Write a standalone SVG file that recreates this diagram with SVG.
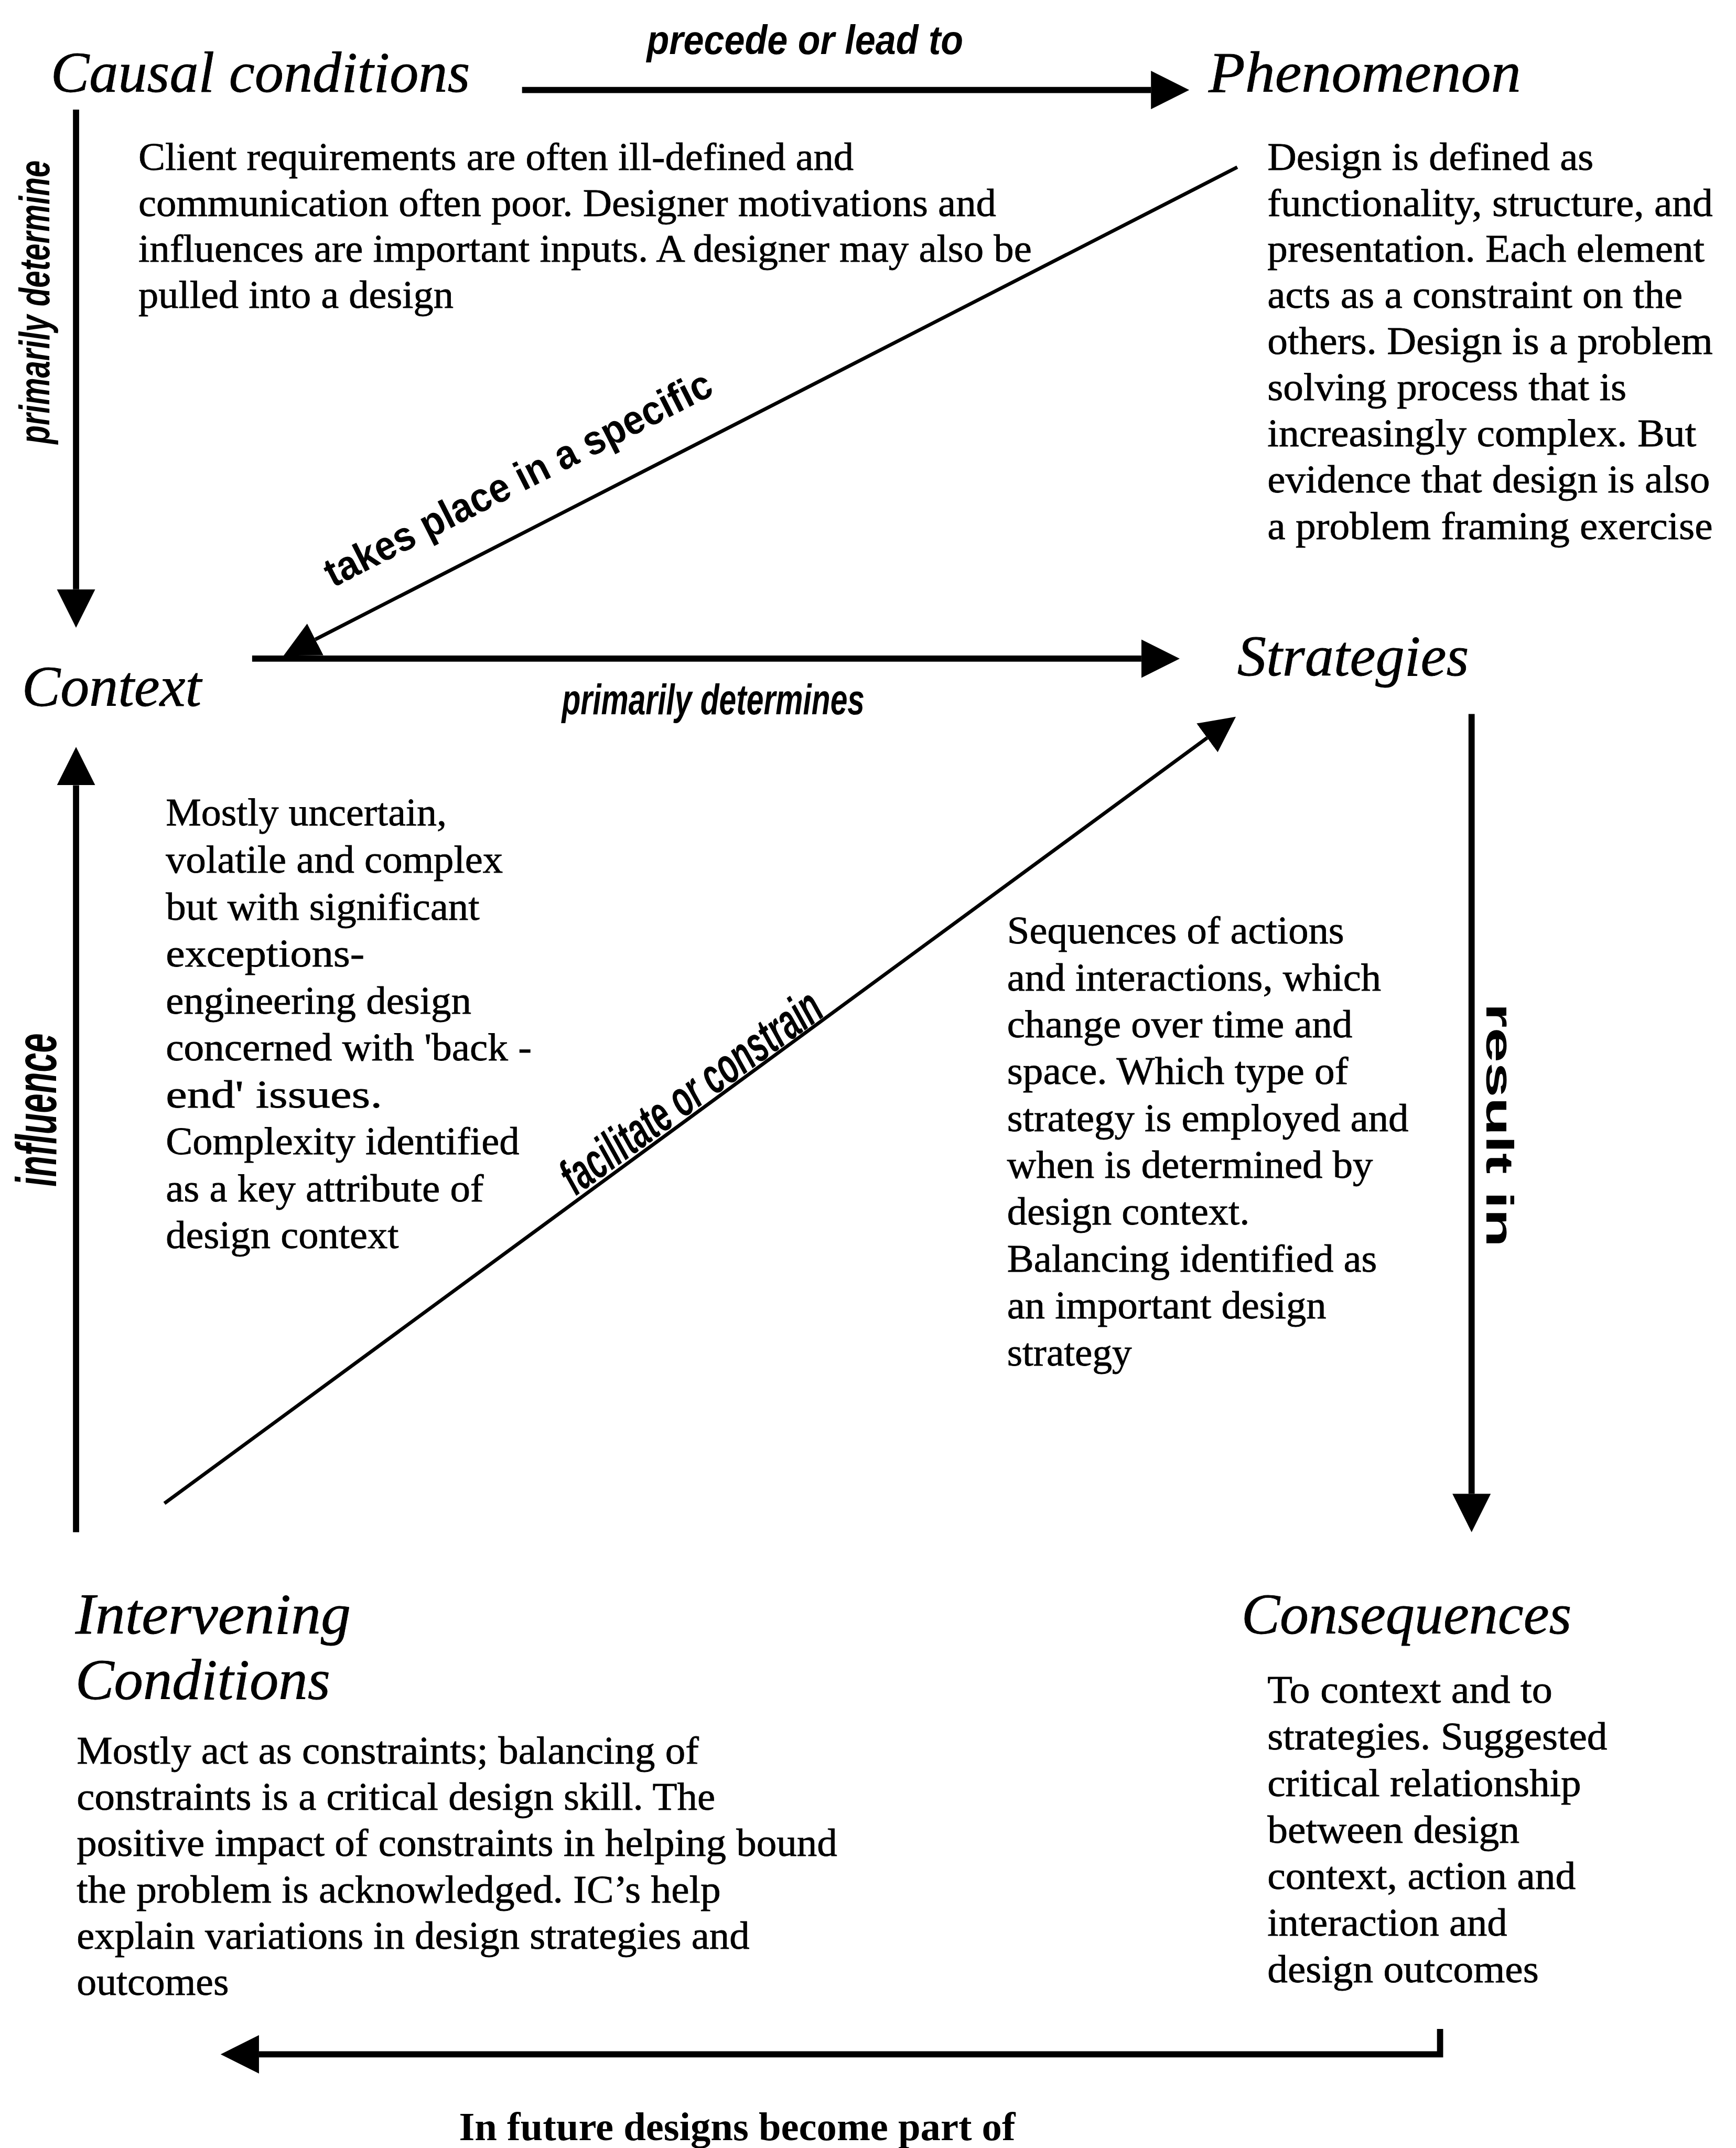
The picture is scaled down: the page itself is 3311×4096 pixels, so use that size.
<svg xmlns="http://www.w3.org/2000/svg" width="3311" height="4096" viewBox="0 0 3311 4096">
  <style>
    .head { font-family: "Liberation Serif", "Times New Roman", serif; font-style: italic; font-size: 42px; fill: #000; stroke: #000; stroke-width: 0.3; }
    .body { font-family: "Liberation Serif", "Times New Roman", serif; font-size: 28px; fill: #000; stroke: #000; stroke-width: 0.3; }
    .foot { font-family: "Liberation Serif", "Times New Roman", serif; font-size: 29px; font-weight: bold; fill: #000; }
    .lab  { font-family: "Liberation Sans", Arial, sans-serif; font-weight: bold; font-style: italic; fill: #000; }
    .labn { font-family: "Liberation Sans", Arial, sans-serif; font-weight: bold; fill: #000; }
    .thick { fill: none; stroke: #000; stroke-width: 4.5; }
    .thin  { fill: none; stroke: #000; stroke-width: 2.6; }
  </style>
  <defs>
    <marker id="head" markerUnits="userSpaceOnUse" viewBox="0 0 28 28" refX="0" refY="14" markerWidth="28" markerHeight="28" orient="auto">
      <path d="M0,0 L28,14 L0,28 Z" fill="#000"/>
    </marker>
    <marker id="headS" markerUnits="userSpaceOnUse" viewBox="0 0 26 26" refX="0" refY="13" markerWidth="26" markerHeight="26" orient="auto">
      <path d="M0,0 L26,13 L0,26 Z" fill="#000"/>
    </marker>
  </defs>
  <rect x="0" y="0" width="3311" height="4096" fill="#fff"/>
  <g transform="scale(2.6133)">

    <!-- connectors -->
    <g id="connectors">
      <path class="thick" d="M381,65.7 H840" marker-end="url(#head)"/>
      <path class="thick" d="M55.5,80 V430" marker-end="url(#head)"/>
      <path class="thin" d="M903,122 L230.1,466.6" marker-end="url(#headS)"/>
      <path class="thick" d="M184,480.6 H833" marker-end="url(#head)"/>
      <path class="thick" d="M55.5,1118 V573" marker-end="url(#head)"/>
      <path class="thin" d="M120,1097 L881,538.4" marker-end="url(#headS)"/>
      <path class="thick" d="M1074,521 V1090" marker-end="url(#head)"/>
      <path class="thick" d="M1051,1480.5 V1499 H189" marker-end="url(#head)"/>
    </g>

    <!-- connector labels -->
    <g id="connector-labels">
      <text class="lab" x="472" y="39.6" font-size="30" textLength="231" lengthAdjust="spacingAndGlyphs">precede or lead to</text>
      <text class="lab" transform="translate(36,324) rotate(-90)" font-size="31" textLength="207" lengthAdjust="spacingAndGlyphs">primarily determine</text>
      <text class="labn" transform="translate(243,429) rotate(-26.9)" font-size="30" textLength="313" lengthAdjust="spacingAndGlyphs">takes place in a specific</text>
      <text class="lab" x="410" y="521" font-size="31" textLength="221" lengthAdjust="spacingAndGlyphs">primarily determines</text>
      <text class="lab" transform="translate(41,866) rotate(-90)" font-size="42" textLength="112" lengthAdjust="spacingAndGlyphs">influence</text>
      <text class="lab" transform="translate(420,873) rotate(-35.9)" font-size="37" textLength="226" lengthAdjust="spacingAndGlyphs">facilitate or constrain</text>
      <text class="labn" transform="translate(1085,732) rotate(90)" font-size="28" textLength="178" lengthAdjust="spacingAndGlyphs">result in</text>
      <text class="foot" x="335" y="1561.5" textLength="406" lengthAdjust="spacingAndGlyphs">In future designs become part of</text>
    </g>

    <!-- Causal conditions -->
    <g id="causal-conditions">
      <text class="head" x="37" y="67" textLength="306" lengthAdjust="spacingAndGlyphs">Causal conditions</text>
      <text class="body" x="101" y="123.8" textLength="522" lengthAdjust="spacingAndGlyphs">Client requirements are often ill-defined and</text>
      <text class="body" x="101" y="157.5" textLength="626" lengthAdjust="spacingAndGlyphs">communication often poor. Designer motivations and</text>
      <text class="body" x="101" y="191.1" textLength="652" lengthAdjust="spacingAndGlyphs">influences are important inputs. A designer may also be</text>
      <text class="body" x="101" y="224.8" textLength="230" lengthAdjust="spacingAndGlyphs">pulled into a design</text>
    </g>

    <!-- Phenomenon -->
    <g id="phenomenon">
      <text class="head" x="882" y="67" textLength="228" lengthAdjust="spacingAndGlyphs">Phenomenon</text>
      <text class="body" x="925" y="123.8" textLength="238" lengthAdjust="spacingAndGlyphs">Design is defined as</text>
      <text class="body" x="925" y="157.5" textLength="325" lengthAdjust="spacingAndGlyphs">functionality, structure, and</text>
      <text class="body" x="925" y="191.1" textLength="319" lengthAdjust="spacingAndGlyphs">presentation. Each element</text>
      <text class="body" x="925" y="224.8" textLength="303" lengthAdjust="spacingAndGlyphs">acts as a constraint on the</text>
      <text class="body" x="925" y="258.4" textLength="325" lengthAdjust="spacingAndGlyphs">others. Design is a problem</text>
      <text class="body" x="925" y="292.1" textLength="262" lengthAdjust="spacingAndGlyphs">solving process that is</text>
      <text class="body" x="925" y="325.7" textLength="313" lengthAdjust="spacingAndGlyphs">increasingly complex. But</text>
      <text class="body" x="925" y="359.4" textLength="323" lengthAdjust="spacingAndGlyphs">evidence that design is also</text>
      <text class="body" x="925" y="393.5" textLength="325" lengthAdjust="spacingAndGlyphs">a problem framing exercise</text>
    </g>

    <!-- Context -->
    <g id="context">
      <text class="head" x="16" y="515" textLength="131" lengthAdjust="spacingAndGlyphs">Context</text>
      <text class="body" x="121" y="602.5" textLength="205" lengthAdjust="spacingAndGlyphs">Mostly uncertain,</text>
      <text class="body" x="121" y="636.7" textLength="246" lengthAdjust="spacingAndGlyphs">volatile and complex</text>
      <text class="body" x="121" y="671" textLength="229" lengthAdjust="spacingAndGlyphs">but with significant</text>
      <text class="body" x="121" y="705.2" textLength="145" lengthAdjust="spacingAndGlyphs">exceptions-</text>
      <text class="body" x="121" y="739.5" textLength="223" lengthAdjust="spacingAndGlyphs">engineering design</text>
      <text class="body" x="121" y="773.7" textLength="267" lengthAdjust="spacingAndGlyphs">concerned with 'back -</text>
      <text class="body" x="121" y="808" textLength="158" lengthAdjust="spacingAndGlyphs">end' issues.</text>
      <text class="body" x="121" y="842.2" textLength="258" lengthAdjust="spacingAndGlyphs">Complexity identified</text>
      <text class="body" x="121" y="876.5" textLength="232" lengthAdjust="spacingAndGlyphs">as a key attribute of</text>
      <text class="body" x="121" y="910.7" textLength="170" lengthAdjust="spacingAndGlyphs">design context</text>
    </g>

    <!-- Strategies -->
    <g id="strategies">
      <text class="head" x="903" y="493" textLength="169" lengthAdjust="spacingAndGlyphs">Strategies</text>
      <text class="body" x="735" y="688.5" textLength="246" lengthAdjust="spacingAndGlyphs">Sequences of actions</text>
      <text class="body" x="735" y="722.7" textLength="273" lengthAdjust="spacingAndGlyphs">and interactions, which</text>
      <text class="body" x="735" y="756.9" textLength="252" lengthAdjust="spacingAndGlyphs">change over time and</text>
      <text class="body" x="735" y="791.1" textLength="249" lengthAdjust="spacingAndGlyphs">space. Which type of</text>
      <text class="body" x="735" y="825.3" textLength="293" lengthAdjust="spacingAndGlyphs">strategy is employed and</text>
      <text class="body" x="735" y="859.5" textLength="267" lengthAdjust="spacingAndGlyphs">when is determined by</text>
      <text class="body" x="735" y="893.7" textLength="177" lengthAdjust="spacingAndGlyphs">design context.</text>
      <text class="body" x="735" y="927.9" textLength="270" lengthAdjust="spacingAndGlyphs">Balancing identified as</text>
      <text class="body" x="735" y="962.1" textLength="233" lengthAdjust="spacingAndGlyphs">an important design</text>
      <text class="body" x="735" y="996.3" textLength="91" lengthAdjust="spacingAndGlyphs">strategy</text>
    </g>

    <!-- Intervening Conditions -->
    <g id="intervening-conditions">
      <text class="head" x="55" y="1192" textLength="201" lengthAdjust="spacingAndGlyphs">Intervening</text>
      <text class="head" x="55" y="1240" textLength="186" lengthAdjust="spacingAndGlyphs">Conditions</text>
      <text class="body" x="56" y="1286.8" textLength="454" lengthAdjust="spacingAndGlyphs">Mostly act as constraints; balancing of</text>
      <text class="body" x="56" y="1320.6" textLength="466" lengthAdjust="spacingAndGlyphs">constraints is a critical design skill. The</text>
      <text class="body" x="56" y="1354.4" textLength="555" lengthAdjust="spacingAndGlyphs">positive impact of constraints in helping bound</text>
      <text class="body" x="56" y="1388.2" textLength="470" lengthAdjust="spacingAndGlyphs">the problem is acknowledged. IC’s help</text>
      <text class="body" x="56" y="1422" textLength="491" lengthAdjust="spacingAndGlyphs">explain variations in design strategies and</text>
      <text class="body" x="56" y="1455.8" textLength="111" lengthAdjust="spacingAndGlyphs">outcomes</text>
    </g>

    <!-- Consequences -->
    <g id="consequences">
      <text class="head" x="906" y="1192" textLength="241" lengthAdjust="spacingAndGlyphs">Consequences</text>
      <text class="body" x="925" y="1242.5" textLength="208" lengthAdjust="spacingAndGlyphs">To context and to</text>
      <text class="body" x="925" y="1276.5" textLength="248" lengthAdjust="spacingAndGlyphs">strategies. Suggested</text>
      <text class="body" x="925" y="1310.5" textLength="229" lengthAdjust="spacingAndGlyphs">critical relationship</text>
      <text class="body" x="925" y="1344.5" textLength="184" lengthAdjust="spacingAndGlyphs">between design</text>
      <text class="body" x="925" y="1378.5" textLength="225" lengthAdjust="spacingAndGlyphs">context, action and</text>
      <text class="body" x="925" y="1412.5" textLength="175" lengthAdjust="spacingAndGlyphs">interaction and</text>
      <text class="body" x="925" y="1446.5" textLength="198" lengthAdjust="spacingAndGlyphs">design outcomes</text>
    </g>
  </g>
</svg>
